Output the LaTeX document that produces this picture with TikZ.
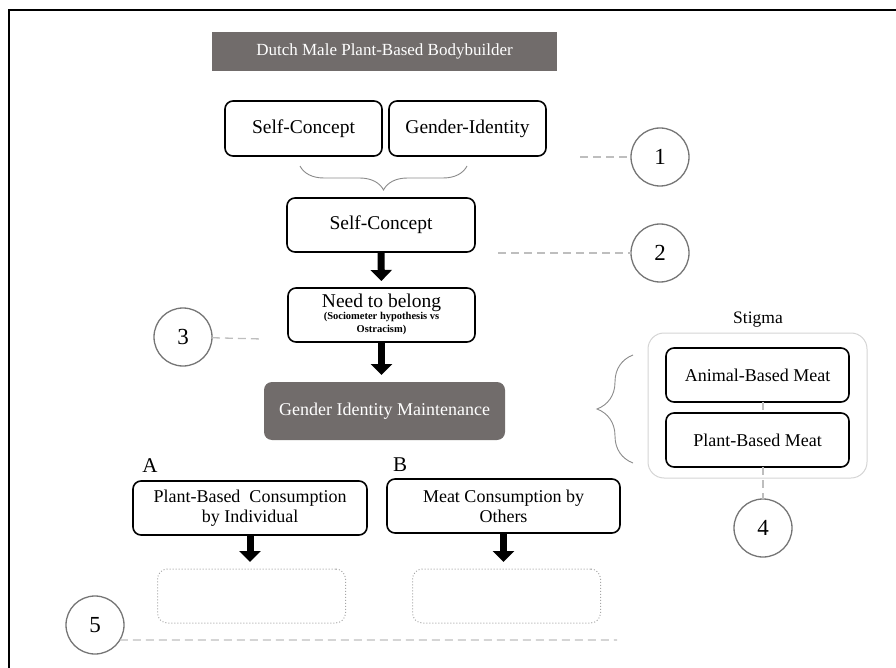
\documentclass[tikz,border=0pt]{standalone}
\usepackage{fontspec}
\setmainfont{Liberation Serif}
\usetikzlibrary{arrows.meta,decorations.pathreplacing}
\definecolor{boxgray}{HTML}{716C6B}
\definecolor{ringgray}{HTML}{757575}
\definecolor{linkgray}{HTML}{BEBEBE}
\definecolor{bracegray}{HTML}{8A8A8A}
\definecolor{panelgray}{HTML}{D4D4D4}

\begin{document}
\begin{tikzpicture}[
			x=1pt, y=-1pt,
			every node/.style={outer sep=0pt, inner sep=2pt, align=center},
			box/.style={draw, line width=1.6pt, rounded corners=8pt, font=\fontsize{18}{20}\selectfont},
			greybox/.style={fill=boxgray, text=white, font=\fontsize{18}{20}\selectfont},
			ring/.style={circle, draw=ringgray, line width=1.3pt, minimum size=58pt, font=\fontsize{23}{23}\selectfont},
			link/.style={draw=linkgray, line width=1.3pt, dash pattern=on 8pt off 5pt},
			push/.style={line width=7pt, -{Triangle[width=21pt,length=11pt]}, shorten >=7pt},
			blank/.style={draw=gray!70, line width=1pt, dotted, rounded corners=10pt, minimum width=188pt, minimum height=54pt},
			curly/.style={draw=bracegray, line width=0.9pt, decorate},
		]
		\useasboundingbox (0,0) rectangle (896,668);
		\draw[line width=2pt] (9,668) -- (9,10) -- (896,10);

		\node[greybox, minimum width=345pt, minimum height=39pt, font=\fontsize{17}{20}\selectfont] (title) at (384.5,51.5) {Dutch Male Plant-Based Bodybuilder};

		\node[box, minimum width=157pt, minimum height=55pt, font=\fontsize{19.5}{22}\selectfont] (self1) at (303.5,128.5) {Self-Concept};
		\node[box, minimum width=157pt, minimum height=55pt, font=\fontsize{19.5}{22}\selectfont] (gender) at (467.5,128.5) {Gender-Identity};
		\draw[curly, decoration={brace, amplitude=24pt}] (467,166) -- (300,166);

		\node[box, minimum width=188pt, minimum height=54pt, font=\fontsize{19.5}{22}\selectfont] (self2) at (381,225) {Self-Concept};
		\node[box, minimum width=187pt, minimum height=54pt, font=\fontsize{19.5}{22}\selectfont] (belong) at (381.5,315)
			{Need to belong\\[-3pt]{\fontsize{10.5}{12.5}\selectfont\bfseries\begin{tabular}{@{}c@{}}(Sociometer hypothesis vs\\Ostracism)\end{tabular}}};
		\node[greybox, rounded corners=8pt, minimum width=241pt, minimum height=58pt] (gim) at (384.5,411) {Gender Identity Maintenance};
		\draw[push] (self2.south) -- (belong.north);
		\draw[push] (belong.south) -- (belong.south |- gim.north);

		\node[draw=panelgray, line width=1pt, rounded corners=16pt, minimum width=219pt, minimum height=145pt] (panel) at (757.5,405.5) {};
		\node[font=\fontsize{17.5}{20}\selectfont] (stigma) at (758,320) {Stigma};
		\node[box, minimum width=183pt, minimum height=54pt] (animal) at (757.5,375) {Animal-Based Meat};
		\node[box, minimum width=183pt, minimum height=54pt] (plantmeat) at (757.5,440) {Plant-Based Meat};
		\draw[curly, decoration={brace, amplitude=36pt}] (633,463) -- (633,355);

		\node[font=\fontsize{21}{21}\selectfont] (labA) at (150,466) {A};
		\node[font=\fontsize{21}{21}\selectfont] (labB) at (400,465) {B};
		\node[box, minimum width=234pt, minimum height=54pt] (boxA) at (250,508) {Plant-Based\ \ Consumption\\by Individual};
		\node[box, minimum width=233pt, minimum height=54pt] (boxB) at (503.5,506) {Meat Consumption by\\Others};
		\node[blank] (dotA) at (251.5,596) {};
		\node[blank] (dotB) at (506.5,596) {};
		\draw[push] (boxA.south) -- (boxA.south |- dotA.north);
		\draw[push] (boxB.south) -- (boxB.south |- dotB.north);

		\node[ring] (c1) at (660,157) {1};
		\node[ring] (c2) at (660,253) {2};
		\node[ring] (c3) at (183,337) {3};
		\node[ring] (c4) at (763,528) {4};
		\node[ring] (c5) at (95,625) {5};
		\coordinate (d1) at (580,157);
		\coordinate (d2) at (498,253);
		\coordinate (d3) at (262,339);
		\coordinate (d5) at (617,640);
		\draw[link] (d1) -- (c1);
		\draw[link] (d2) -- (c2);
		\draw[link] (c3) -- (d3);
		\draw[link] (animal.south -| c4) -- (plantmeat.north -| c4);
		\draw[link] (plantmeat.south -| c4) -- (c4);
		\draw[link] (c5.-31) -- (d5);
\end{tikzpicture}
\end{document}
